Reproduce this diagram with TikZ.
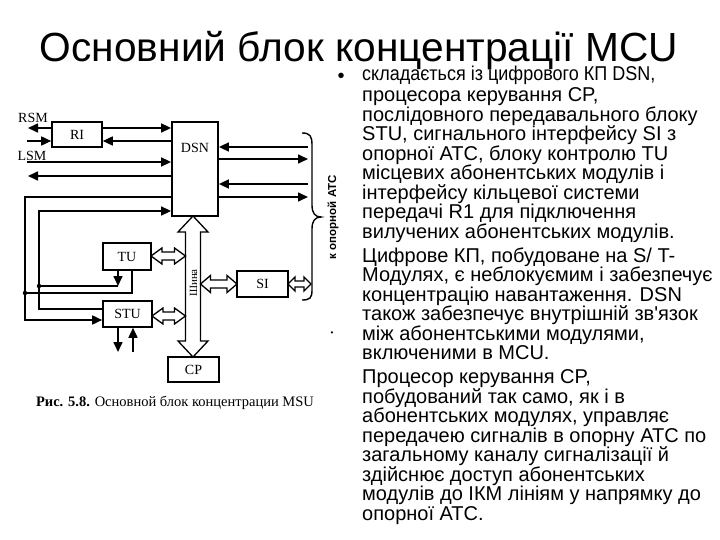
\documentclass[tikz,border=0pt]{standalone}
\usepackage{graphicx}
\usepackage{fontspec}
\setmainfont{Liberation Serif}
\newfontfamily\arialf{Liberation Sans}
\usetikzlibrary{arrows.meta}
\newcommand\hdarrow[6]{\draw[hollow] (#1,#3) -- (#1+#4,#3-#5) -- (#1+#4,#3-#6) -- (#2-#4,#3-#6) -- (#2-#4,#3-#5) -- (#2,#3) -- (#2-#4,#3+#5) -- (#2-#4,#3+#6) -- (#1+#4,#3+#6) -- (#1+#4,#3+#5) -- cycle;}
\newcommand\vdarrow[6]{\draw[hollow] (#3,#1) -- (#3-#5,#1+#4) -- (#3-#6,#1+#4) -- (#3-#6,#2-#4) -- (#3-#5,#2-#4) -- (#3,#2) -- (#3+#5,#2-#4) -- (#3+#6,#2-#4) -- (#3+#6,#1+#4) -- (#3+#5,#1+#4) -- cycle;}
\begin{document}
\begin{tikzpicture}[x=1pt,y=-1pt,
  blk/.style={draw, line width=1.6pt, inner sep=0pt, font=\fontsize{14}{16}\selectfont},
  arr/.style={line width=1.6pt, -{Triangle[length=10pt,width=9pt]}},
  ln/.style={line width=1.6pt},
  hollow/.style={draw, fill=white, line width=1.3pt, line join=miter},
  lbl/.style={font=\fontsize{14}{16}\selectfont, inner sep=0pt},
  dot/.style={circle, fill, inner sep=0pt, minimum size=4.5pt}]
\useasboundingbox (0,0) rectangle (720,540);

% title
\node[font=\arialf\fontsize{40.7}{44}\selectfont, inner sep=0, anchor=base] (title) at (359,62) {Основний блок концентрації MCU};

% body text
\node[font=\arialf\fontsize{20}{20}\selectfont, inner sep=0, anchor=base] (bul1) at (341,83) {\smash{•}};
\node[font=\arialf\fontsize{8}{9}\selectfont, inner sep=0] (bul2) at (332,334) {•};
\node[anchor=north west, align=left, inner sep=0, font=\arialf\fontsize{20}{19.5}\selectfont] (body) at (362,66.3) {\strut\scalebox{0.9}[1]{складається із цифрового КП DSN,}\\
процесора керування CP,\\
послідовного передавального блоку\\
STU, сигнального інтерфейсу SI з\\
опорної АТС, блоку контролю TU\\
місцевих абонентських модулів і\\
інтерфейсу кільцевої системи\\
передачі R1 для підключення\\
вилучених абонентських модулів.\\[4.5pt]
Цифрове КП, побудоване на S/ T-\\
Модулях, є неблокуємим і забезпечує\\
концентрацію навантаження. DSN\\
також забезпечує внутрішній зв'язок\\
між абонентськими модулями,\\
включеними в MCU.\\[4.5pt]
Процесор керування CP,\\
побудований так само, як і в\\
абонентських модулях, управляє\\
передачею сигналів в опорну АТС по\\
загальному каналу сигналізації й\\
здійснює доступ абонентських\\
модулів до ІКМ лініям у напрямку до\\
опорної АТС.};

% blocks
\node[blk, minimum width=50pt, minimum height=25pt] (RI) at (77,134.5) {RI};
\node[draw, line width=1.8pt, minimum width=46pt, minimum height=94pt, inner sep=0] (DSN) at (195,169) {};
\node[lbl] (DSNt) at (195,148) {DSN};
\node[blk, minimum width=48pt, minimum height=27pt] (TU) at (127,256.5) {TU};
\node[blk, minimum width=49pt, minimum height=26pt] (STU) at (127.5,314) {STU};
\node[blk, minimum width=51pt, minimum height=26pt] (SI) at (262.5,284) {SI};
\node[blk, minimum width=51pt, minimum height=25pt] (CP) at (193.5,369.5) {CP};

\node[lbl] (rsm) at (33,118) {RSM};
\node[lbl] (lsm) at (32,156) {LSM};

% free ends
\coordinate (rsmEnd) at (28,128);
\coordinate (rsmIn) at (27,141);
\coordinate (lsmIn) at (27,162);
\coordinate (lsmOut) at (28,176);
\coordinate (loopA) at (25,197);
\coordinate (loopB) at (39,211);
\coordinate (jA) at (25,293);
\coordinate (jB) at (39,286);
\coordinate (stuInA) at (25,320);
\coordinate (stuOutB) at (39,309);
\coordinate (stuDn) at (118,352);
\coordinate (stuUp) at (133,352);
\coordinate (b1) at (308,147);
\coordinate (b2) at (308,159);
\coordinate (b3) at (308,184);
\coordinate (b4) at (308,197);

% left connectors
\draw[arr] (RI.west |- rsmEnd) -- (rsmEnd);
\draw[arr] (RI.east |- rsmEnd) -- (DSN.west |- rsmEnd);
\draw[arr] (rsmIn) -- (RI.west |- rsmIn);
\draw[arr] (DSN.west |- rsmIn) -- (RI.east |- rsmIn);
\draw[arr] (lsmIn) -- (DSN.west |- lsmIn);
\draw[arr] (DSN.west |- lsmOut) -- (lsmOut);
\draw[arr] (DSN.west |- loopA) -- (loopA) -- (stuInA) -- (STU.west |- stuInA);
\draw[ln] (jA) -| ([xshift=5pt]TU.south);
\draw[arr] (STU.west |- stuOutB) -- (stuOutB) -- (loopB) -- (DSN.west |- loopB);
\draw[arr] ([xshift=-9pt]TU.south) -- ([xshift=-9pt]TU.south |- jB);
\draw[ln] ([xshift=-9pt]TU.south |- jB) -- (jB);
\node[dot] (dA) at (jA) {};
\node[dot] (dB) at (jB) {};
\draw[arr] (STU.south -| stuDn) -- (stuDn);
\draw[arr] (stuUp) -- (STU.south -| stuUp);

% right connectors
\draw[arr] (b1) -- (DSN.east |- b1);
\draw[arr] (DSN.east |- b2) -- (b2);
\draw[arr] (b3) -- (DSN.east |- b3);
\draw[arr] (DSN.east |- b4) -- (b4);

% brace
\draw[line width=1.4pt] (302,133) .. controls (310,133) and (312,136) .. (312,145) -- (312,205) .. controls (312,213) and (315,217) .. (321,217) .. controls (315,217) and (312,221) .. (312,229) -- (312,290) .. controls (312,298) and (310,300) .. (302,300);
\node[font=\arialf\bfseries\fontsize{11.5}{13}\selectfont, rotate=90, inner sep=0] (ato) at (333,217) {к опорной АТС};

% bus and hollow arrows
\vdarrow{216}{357}{193}{16}{15}{7.5}
\node[font=\fontsize{11}{12}\selectfont, rotate=90, inner sep=0] (shina) at (193.5,283) {Шина};
\hdarrow{151}{185.5}{256}{11}{8}{4}
\hdarrow{152}{185.5}{316}{11}{8}{4}
\hdarrow{200.5}{237}{284}{10}{8.5}{4}
\hdarrow{288}{311}{284}{7}{7}{3}

% caption
\node[font=\fontsize{14.5}{16}\selectfont, inner sep=0, anchor=base] (cap) at (175,406) {\textbf{Рис. 5.8.} Основной блок концентрации MSU};
\end{tikzpicture}
\end{document}
